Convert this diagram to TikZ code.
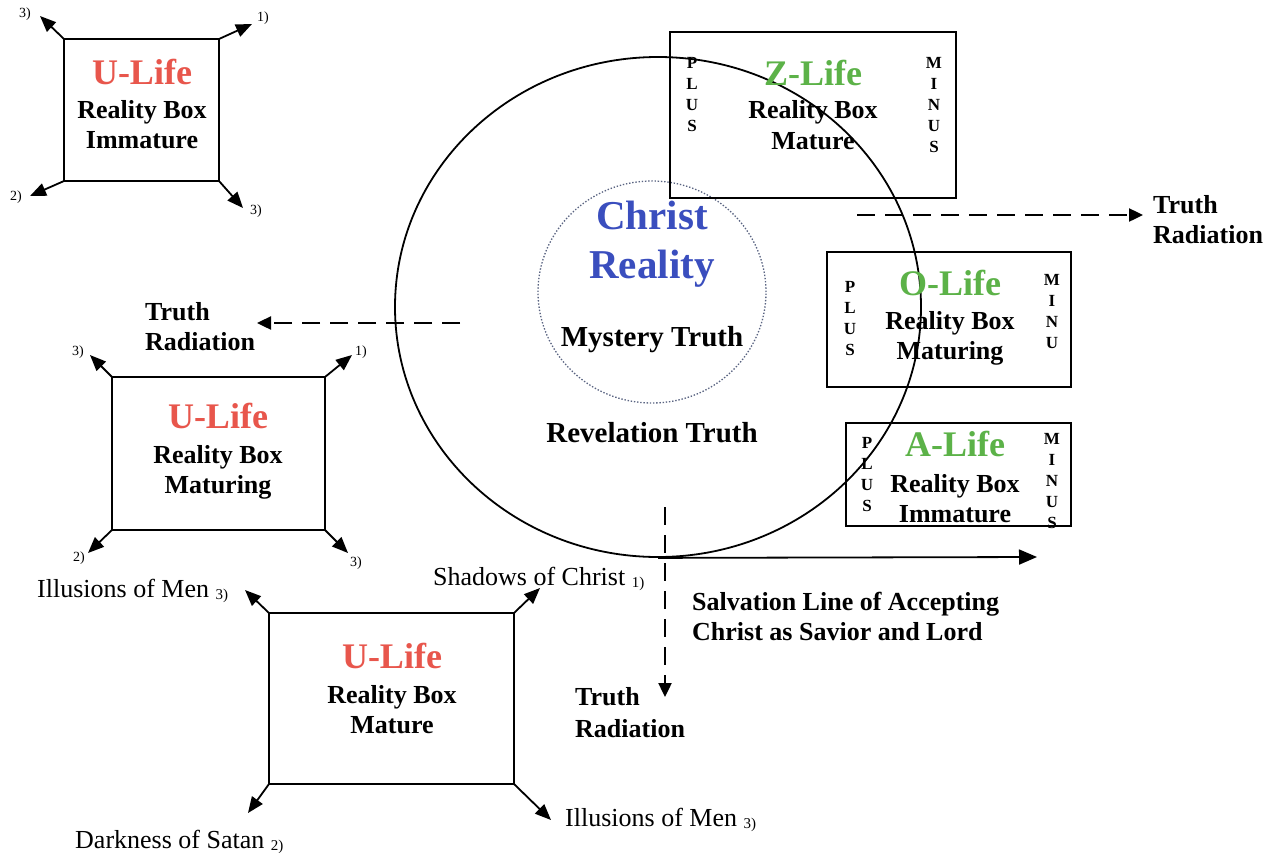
\documentclass[tikz,border=0pt]{standalone}
\usepackage{fontspec}
\setmainfont{Liberation Serif}
\usetikzlibrary{arrows.meta,shapes.geometric}
\definecolor{ured}{RGB}{232,86,76}
\definecolor{lgreen}{RGB}{92,178,72}
\definecolor{cblue}{RGB}{58,78,190}
\definecolor{dotc}{RGB}{90,100,130}
\begin{document}
\begin{tikzpicture}[x=1pt,y=-1pt,
  boxst/.style={draw, line width=1.6pt, inner sep=0pt, outer sep=0pt, anchor=north west},
  arr/.style={line width=1.8pt, -{Triangle[length=16pt,width=13pt]}},
  darr/.style={line width=2.4pt, dash pattern=on 18pt off 10pt, -{Triangle[length=14pt,width=13pt]}},
  salv/.style={line width=1.8pt, -{Triangle[length=18pt,width=15pt]}},
  ttl/.style={font=\fontsize{36}{40}\selectfont\bfseries, anchor=base, inner sep=0pt},
  rb/.style={font=\fontsize{26}{30}\selectfont\bfseries, anchor=base, inner sep=0pt},
  lab/.style={font=\fontsize{26}{30}\selectfont\bfseries, anchor=base west, inner sep=0pt},
  reg/.style={font=\fontsize{26}{30}\selectfont, anchor=base west, inner sep=0pt},
  sm/.style={font=\fontsize{14}{16}\selectfont, inner sep=0pt},
  pm/.style={font=\fontsize{17}{21}\selectfont\bfseries, align=center, inner sep=0pt},
]
\useasboundingbox (0,0) rectangle (1275,852);
\fill[white] (0,0) rectangle (1275,852);

% ---------- big circle and inner dotted circle ----------
\node[ellipse, draw, line width=1.8pt, minimum width=526pt, minimum height=500pt, inner sep=0pt] (big) at (658,307) {};
\node[ellipse, draw=dotc, line width=1.3pt, dash pattern=on 1.4pt off 1.8pt, minimum width=228pt, minimum height=222pt, inner sep=0pt] (inner) at (652,292) {};

\node[ttl, font=\fontsize{41}{45}\selectfont\bfseries, text=cblue] (christ) at (652,229) {Christ};
\node[ttl, font=\fontsize{41}{45}\selectfont\bfseries, text=cblue] (creal) at (652,278) {Reality};
\node[rb, font=\fontsize{29}{33}\selectfont\bfseries] (myst) at (652,346) {Mystery Truth};
\node[rb, font=\fontsize{29}{33}\selectfont\bfseries] (revel) at (652,442) {Revelation Truth};

% ---------- top-left box ----------
\node[boxst, minimum width=155pt, minimum height=142pt] (tl) at (64,39) {};
\node[ttl, text=ured] (tlt) at (142,84) {U-Life};
\node[rb] (tlr) at (142,118) {Reality Box};
\node[rb] (tlm) at (142,148) {Immature};
\coordinate (tla) at (40,16);
\coordinate (tlb) at (252,24);
\coordinate (tlc) at (30,196);
\coordinate (tld) at (243,208);
\draw[arr] (tl.north west) -- (tla);
\draw[arr] (tl.north east) -- (tlb);
\draw[arr] (tl.south west) -- (tlc);
\draw[arr] (tl.south east) -- (tld);
\node[sm] (tlk1) at (25,14) {3)};
\node[sm] (tlk2) at (263,18) {1)};
\node[sm] (tlk3) at (16,197) {2)};
\node[sm] (tlk4) at (256,211) {3)};

% ---------- middle-left box ----------
\node[boxst, minimum width=213pt, minimum height=153pt] (ml) at (112,377) {};
\node[ttl, text=ured] (mlt) at (218,428) {U-Life};
\node[rb] (mlr) at (218,463) {Reality Box};
\node[rb] (mlm) at (218,493) {Maturing};
\coordinate (mla) at (90,355);
\coordinate (mlb) at (352,355);
\coordinate (mlc) at (88,553);
\coordinate (mld) at (348,553);
\draw[arr] (ml.north west) -- (mla);
\draw[arr] (ml.north east) -- (mlb);
\draw[arr] (ml.south west) -- (mlc);
\draw[arr] (ml.south east) -- (mld);
\node[sm] (mlk1) at (78,352) {3)};
\node[sm] (mlk2) at (361,352) {1)};
\node[sm] (mlk3) at (79,558) {2)};
\node[sm] (mlk4) at (356,563) {3)};

% left truth radiation
\node[lab] (ltr1) at (145,320) {Truth};
\node[lab] (ltr2) at (145,350) {Radiation};
\coordinate (lds) at (460,323);
\coordinate (lde) at (257,323);
\draw[darr] (lds) -- (lde);

\node[reg] (ill1) at (37,597) {Illusions of Men \raisebox{-2pt}{\fontsize{15}{17}\selectfont 3)}};

% ---------- bottom box ----------
\node[boxst, minimum width=245pt, minimum height=171pt] (bb) at (269,613) {};
\node[ttl, text=ured] (bbt) at (392,668) {U-Life};
\node[rb] (bbr) at (392,703) {Reality Box};
\node[rb] (bbm) at (392,733) {Mature};
\coordinate (bba) at (245,590);
\coordinate (bbb) at (540,588);
\coordinate (bbc) at (248,813);
\coordinate (bbd) at (551,820);
\draw[arr] (bb.north west) -- (bba);
\draw[arr] (bb.north east) -- (bbb);
\draw[arr] (bb.south west) -- (bbc);
\draw[arr] (bb.south east) -- (bbd);
\node[reg] (shad) at (433,585) {Shadows of Christ \raisebox{-2pt}{\fontsize{15}{17}\selectfont 1)}};
\node[reg] (ill2) at (565,826) {Illusions of Men \raisebox{-2pt}{\fontsize{15}{17}\selectfont 3)}};
\node[reg] (dark) at (75,848) {Darkness of Satan \raisebox{-2pt}{\fontsize{15}{17}\selectfont 2)}};

% bottom truth radiation
\coordinate (bds) at (665,507);
\coordinate (bde) at (665,697);
\draw[darr] (bds) -- (bde);
\node[lab] (btr1) at (575,705) {Truth};
\node[lab] (btr2) at (575,737) {Radiation};

% salvation line
\coordinate (salend) at (1037,557);
\draw[salv] (big.south) -- (salend);
\node[lab] (sal1) at (692,610) {Salvation Line of Accepting};
\node[lab] (sal2) at (692,640) {Christ as Savior and Lord};

% ---------- Z-Life box ----------
\node[boxst, minimum width=286pt, minimum height=166pt] (zb) at (670,32) {};
\node[ttl, text=lgreen] (zbt) at (813,85) {Z-Life};
\node[rb] (zbr) at (813,118) {Reality Box};
\node[rb] (zbm) at (813,149) {Mature};
\node[pm] (zbp) at (692,95) {P\\L\\U\\S};
\node[pm] (zbn) at (934,105) {M\\I\\N\\U\\S};

% right truth radiation
\coordinate (rds) at (857,215);
\coordinate (rde) at (1143,215);
\draw[darr] (rds) -- (rde);
\node[lab] (rtr1) at (1153,213) {Truth};
\node[lab] (rtr2) at (1153,243) {Radiation};

% ---------- O-Life box ----------
\node[boxst, minimum width=244pt, minimum height=135pt] (ob) at (827,252) {};
\node[ttl, text=lgreen] (obt) at (950,295) {O-Life};
\node[rb] (obr) at (950,329) {Reality Box};
\node[rb] (obm) at (950,359) {Maturing};
\node[pm] (obp) at (850,319) {P\\L\\U\\S};
\node[pm] (obn) at (1052,312) {M\\I\\N\\U};

% ---------- A-Life box ----------
\node[boxst, minimum width=225pt, minimum height=103pt] (ab) at (846,423) {};
\node[ttl, text=lgreen] (abt) at (955,456) {A-Life};
\node[rb] (abr) at (955,492) {Reality Box};
\node[rb] (abm) at (955,522) {Immature};
\node[pm] (abp) at (867,475) {P\\L\\U\\S};
\node[pm] (abn) at (1052,481) {M\\I\\N\\U\\S};
\end{tikzpicture}
\end{document}
